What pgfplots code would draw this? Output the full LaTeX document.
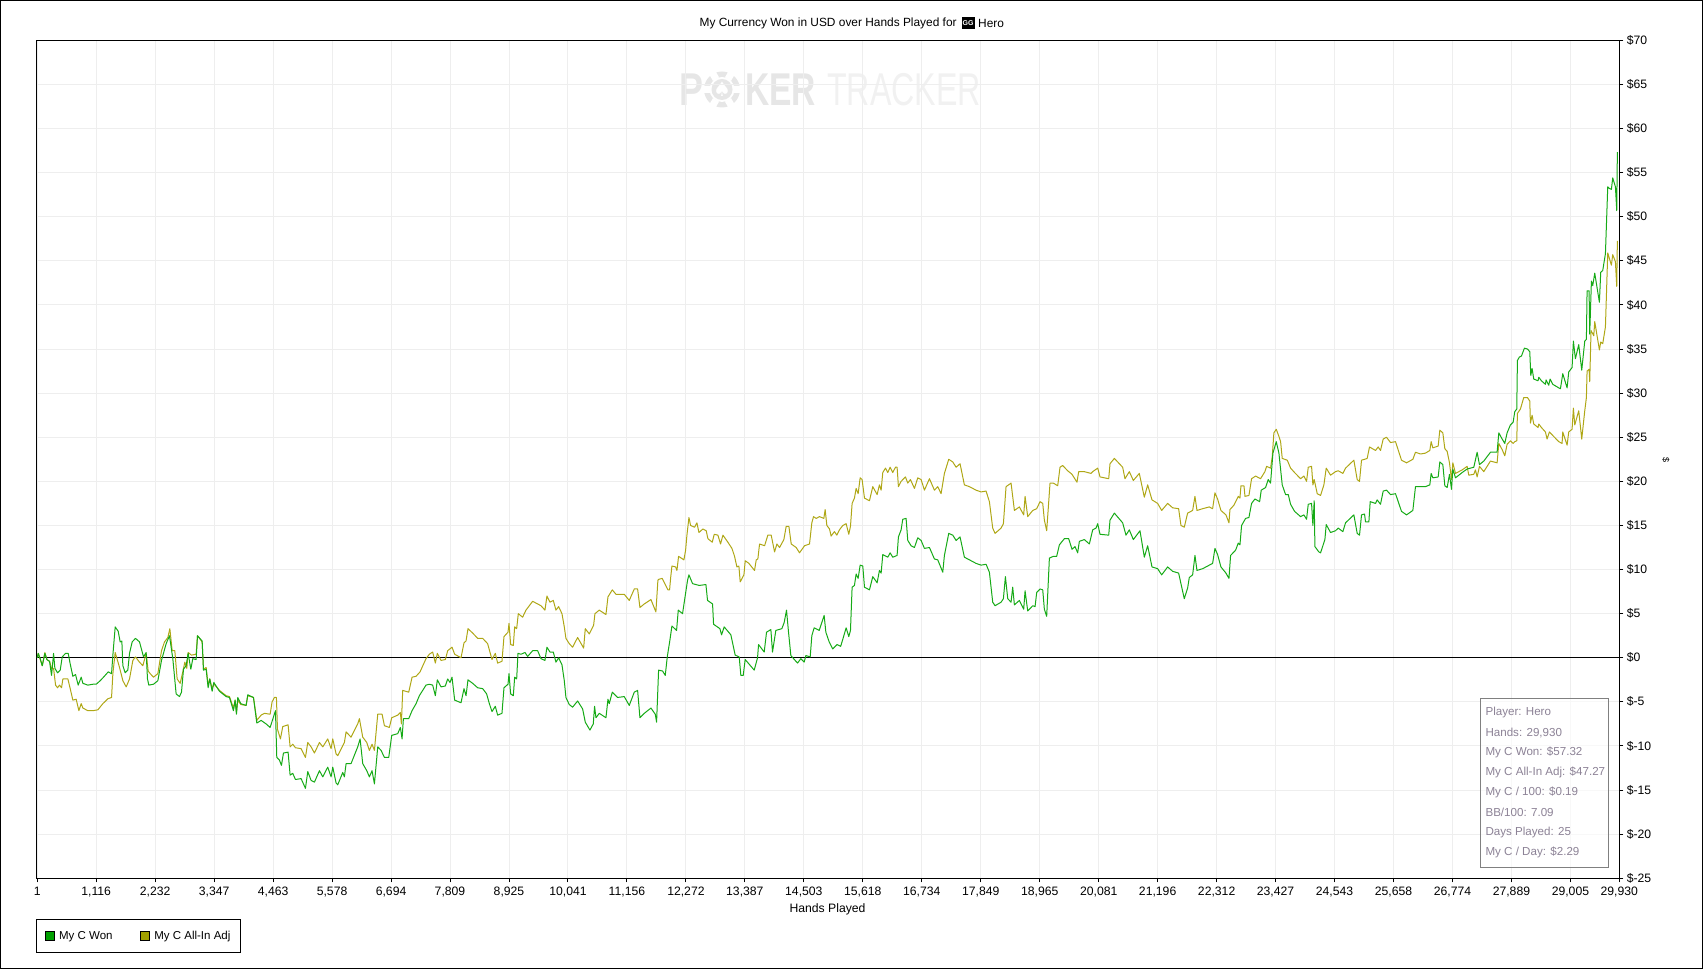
\documentclass[border=0pt]{standalone}
\usepackage{pgfplots}
\pgfplotsset{compat=1.18}
\usepackage{fontspec}
\setmainfont{Liberation Sans}
\newfontfamily\dejavu{DejaVu Sans}
\definecolor{gwon}{HTML}{16AA16}
\definecolor{oadj}{HTML}{AFA716}
\definecolor{gridc}{HTML}{EEEEEE}
\definecolor{wm}{HTML}{E6E6E6}
\definecolor{wmb}{HTML}{F1F1F1}
\definecolor{statc}{HTML}{8C8296}
\definecolor{swg}{RGB}{0,160,0}
\definecolor{swo}{RGB}{160,160,0}
\begin{document}
\begin{tikzpicture}[x=1pt,y=1pt]
\path[use as bounding box] (0,0) rectangle (1703,969);
\draw[black,line width=1pt] (0.5,0.5) rectangle (1702.5,968.5);
% watermark
\node[text=wm,anchor=west,xscale=0.78,transform shape,inner sep=0] at (679,879.5) {\fontsize{46}{46}\selectfont\bfseries P};
\fill[wm] (722,879.5) circle (18);
\fill[white] (722,879.5) circle (12.5);
\fill[wm] (722,879.5) circle (10.5);
\foreach \a in {0,60,...,300}{\fill[white] (722,879.5) ++(\a:12) -- ++(\a+90:3.5) -- ++(\a:7) -- ++(\a-90:7) -- ++(\a+180:7) -- cycle;}
\node[text=white,inner sep=0] at (722,879.5) {\dejavu\fontsize{20}{20}\selectfont ♠};
\node[text=wm,anchor=west,xscale=0.73,transform shape,inner sep=0] at (745,879.5) {\fontsize{46}{46}\selectfont\bfseries KER};
\node[text=wmb,anchor=west,xscale=0.7,transform shape,inner sep=0] at (827,879.5) {\fontsize{46}{46}\selectfont TRACKER};
\begin{axis}[
  at={(36.7pt,90.7pt)},anchor=south west,
  scale only axis,width=1582.6pt,height=838pt,
  xmin=-10,xmax=29930,ymin=-25,ymax=70,
  scaled x ticks=false,scaled y ticks=false,
  axis line style={black,line width=1pt},
  xtick pos=bottom,ytick pos=right,
  tick align=outside,major tick length=4pt,
  every tick/.style={black,line width=1pt},
  grid=major,grid style={gridc,line width=1pt},
  xtick={1,1116,2232,3347,4463,5578,6694,7809,8925,10041,11156,12272,13387,14503,15618,16734,17849,18965,20081,21196,22312,23427,24543,25658,26774,27889,29005,29930},
  xticklabels={1,{1,116},{2,232},{3,347},{4,463},{5,578},{6,694},{7,809},{8,925},{10,041},{11,156},{12,272},{13,387},{14,503},{15,618},{16,734},{17,849},{18,965},{20,081},{21,196},{22,312},{23,427},{24,543},{25,658},{26,774},{27,889},{29,005},{29,930}},
  ytick={-25,-20,-15,-10,-5,0,5,10,15,20,25,30,35,40,45,50,55,60,65,70},
  yticklabels={\$-25,\$-20,\$-15,\$-10,\$-5,\$0,\$5,\$10,\$15,\$20,\$25,\$30,\$35,\$40,\$45,\$50,\$55,\$60,\$65,\$70},
  x tick label style={font=\fontsize{12.2}{13}\selectfont,yshift=-1pt},
  y tick label style={font=\fontsize{12.2}{13}\selectfont,xshift=0pt},
  legend style={at={(0,0)},anchor=north west,yshift=-41pt,xshift=-0.4pt,draw=black,line width=1pt,
    font=\fontsize{11.5}{13}\selectfont,legend columns=2,inner xsep=8pt,inner ysep=9.5pt,
    /tikz/every even column/.append style={column sep=25.5pt}},
  legend cell align=left,
  clip=true,
]
\addlegendimage{legend image code/.code={\draw[black,line width=0.6pt,fill=swg] (-7pt,-4.5pt) rectangle (2pt,4.5pt);\path (4.5pt,0pt);}}
\addlegendentry{My C Won}
\addlegendimage{legend image code/.code={\draw[black,line width=0.6pt,fill=swo] (-7pt,-4.5pt) rectangle (2pt,4.5pt);\path (4.5pt,0pt);}}
\addlegendentry{My C All-In Adj}
\addplot[forget plot,black,line width=1pt] coordinates {(-10,0)(29930,0)};
\addplot[forget plot,oadj,line width=1pt,line join=round] coordinates {
(1,0)(19,0.5)(57,-0.2)(95,-0.9)(145,0.6)(183,-0.2)(233,-0.4)(271,-1.2)(309,-1.2)(347,-3.1)(384,-3.4)(422,-3.1)(460,-3.4)(485,-2.4)(580,-2.4)(624,-3.5)(674,-4.8)(737,-4.7)(788,-6.0)(832,-5.2)(864,-5.7)(958,-6.0)(1053,-6.0)(1147,-5.9)(1242,-5.2)(1336,-4.65)(1406,-4.5)(1431,-1.8)(1475,0.6)(1557,-1.1)(1620,-2.6)(1683,-3.3)(1746,-2.4)(1809,-0.3)(1859,0.1)(1935,-0.5)(1998,-0.9)(2061,0.5)(2099,-1.5)(2137,-1.8)(2200,-2.2)(2282,-1.8)(2351,0.8)(2408,1.8)(2471,2.3)(2509,3.3)(2553,0.8)(2603,0.8)(2647,-2.4)(2704,-2.9)(2754,-1.6)(2792,-0.5)(2830,-1.2)(2855,0.6)(2918,0.3)(3006,0.4)(3032,2.5)(3120,1.8)(3145,-1.3)(3196,-1.1)(3233,-3.1)(3265,-2.4)(3309,-3.5)(3341,-2.95)(3448,-3.7)(3574,-4.3)(3637,-4.4)(3712,-5.7)(3744,-4.8)(3769,-6.2)(3794,-4.8)(3851,-5.3)(3952,-5.4)(3983,-4.3)(4091,-4.5)(4154,-7.1)(4236,-6.5)(4299,-6.3)(4406,-6.4)(4443,-5.0)(4488,-4.5)(4525,-4.5)(4545,-8.1)(4601,-9.2)(4645,-7.8)(4746,-7.6)(4784,-10.1)(4834,-9.8)(4885,-10.2)(4992,-10.3)(5074,-11.3)(5118,-9.6)(5181,-10.1)(5244,-10.8)(5339,-9.6)(5402,-10.1)(5496,-9.2)(5559,-10.3)(5591,-9.2)(5654,-10.9)(5685,-11.1)(5811,-9.6)(5843,-8.4)(5937,-9.0)(6063,-7.5)(6095,-6.9)(6158,-9.0)(6234,-9.6)(6284,-10.5)(6334,-9.8)(6379,-10.5)(6442,-6.4)(6524,-6.4)(6568,-7.7)(6662,-7.9)(6706,-6.8)(6820,-6.5)(6870,-6.2)(6889,-7.5)(6914,-3.7)(7028,-3.9)(7091,-2.2)(7167,-2.1)(7242,-1.6)(7355,-0.1)
(7418,0.4)(7481,0.65)(7532,-0.6)(7569,0.5)(7639,-0.3)(7721,-0.2)(7765,0.8)(7847,1.2)(7897,0.4)(8017,0)(8074,1.7)(8112,1.9)(8149,3.3)(8238,2.8)(8332,2.2)(8427,2.2)(8521,1.6)(8603,-0.2)(8666,0.5)(8710,-0.6)(8792,-0.4)(8830,2.4)(8906,2.9)(8925,3.9)(8956,1.5)(9007,1.4)(9032,3.5)(9070,3.3)(9101,5.0)(9183,4.6)(9246,5.4)(9372,6.4)(9467,6.1)(9530,5.9)(9605,5.4)(9643,7.0)(9700,6.3)(9763,6.5)(9813,5.4)(9864,5.8)(9927,5.0)(9971,3.5)(10002,2.2)(10065,1.6)(10128,1.2)(10223,2.3)(10337,1.1)(10368,3.3)(10444,2.7)(10526,3.7)(10551,5.0)(10633,5.4)(10759,4.9)(10797,6.9)(10879,7.7)(10948,7.2)(11105,7.2)(11200,6.5)(11295,7.8)(11358,7.8)(11402,5.7)(11484,6.1)(11610,6.6)(11704,5.2)(11742,8.8)
(11761,8.9)(11824,9.0)(11932,7.7)(11963,7.7)(11982,9.0)(12007,10.4)(12077,10.3)(12102,9.9)(12133,11.5)(12234,11.1)(12266,12.2)(12291,13.9)(12329,15.9)(12360,15.0)(12436,14.8)(12480,15.3)(12518,14.2)(12593,14.6)(12656,14.4)(12688,13.5)(12770,13.1)(12808,14.0)(12877,13.9)(12927,12.9)(12972,13.9)(13066,13.1)(13142,12.4)(13192,11.5)(13236,10.3)(13274,10.4)(13299,8.6)(13369,9.4)(13394,11.0)(13463,10.7)(13570,9.9)(13602,11.1)(13633,11.2)(13665,12.9)(13760,12.7)(13822,13.9)(13885,13.9)(13949,12.0)(13993,12.9)(14043,12.5)(14125,13.4)(14169,14.9)(14220,14.9)(14264,12.9)(14358,12.5)(14421,11.9)(14516,12.7)(14610,12.9)(14654,15.3)(14686,16.0)(14736,15.8)(14799,16.0)(14881,15.8)(14906,16.8)(14938,15.0)
(14988,14.6)(15019,13.8)(15082,14.3)(15126,13.9)(15176,14.5)(15240,15.0)(15303,15.2)(15353,14.0)(15385,14.9)(15416,17.5)(15460,18.1)(15492,19.2)(15530,18.6)(15568,20.4)(15605,20.2)(15650,18.1)(15744,17.8)(15807,19.4)(15889,18.5)(15933,19.6)(15965,19.0)(15996,21.0)(16047,21.5)(16091,21.0)(16135,21.6)(16185,21.0)(16236,21.6)(16267,21.6)(16292,19.4)(16343,20.0)(16425,20.5)(16469,19.8)(16519,20.2)(16595,19.2)(16658,20.4)(16721,20.2)(16784,19.0)(16879,20.3)(16973,19.0)(17036,19.4)(17099,18.6)(17162,20.9)(17244,22.5)(17320,22.2)(17383,21.6)(17458,22.0)(17540,19.6)(17635,19.4)(17761,19.0)(17856,18.8)(17950,18.9)(18013,17.7)(18076,14.7)(18120,14.1)(18234,14.7)(18278,15.2)(18328,19.4)(18423,19.8)(18486,16.7)(18580,17.1)(18662,16.2)(18688,18.3)(18738,16.0)(18833,16.7)(18908,16.9)(18971,17.7)(19022,17.5)(19053,15.6)(19097,14.4)(19160,19.8)(19223,19.8)(19305,19.5)(19349,21.6)(19399,21.8)(19494,21.2)(19576,20.8)(19670,19.9)(19702,21.1)(19809,21.1)(19935,20.9)(19967,21.1)(20062,21.5)(20106,20.5)(20270,20.3)(20295,22.0)(20377,22.6)(20534,21.6)(20578,20.3)(20660,21.1)(20736,20.1)(20849,20.9)(20944,18.2)(21007,19.6)(21089,17.9)(21196,17.5)(21272,16.7)(21385,17.5)(21480,17.0)(21593,16.9)(21637,15.0)(21700,14.8)(21763,16.4)(21858,16.7)(21902,18.3)(21940,16.7)(22047,16.9)(22173,17.1)(22236,16.9)(22280,18.7)(22330,18.0)(22393,16.7)(22488,16.2)
(22545,15.3)(22564,16.8)(22639,17.3)(22721,18.3)(22753,18.1)(22772,19.5)(22829,19.5)(22848,18.3)(22923,18.4)(22973,20.3)(23049,20.6)(23143,20.3)(23225,21.1)(23257,21.7)(23332,21.5)(23364,22.8)(23395,25.5)(23440,25.9)(23490,25.1)(23522,24.5)(23553,22.6)(23648,22.4)(23711,21.5)(23786,21.0)(23900,20.3)(23963,20.6)(24013,20.0)(24045,21.6)(24108,21.7)(24133,19.6)(24158,20.2)(24215,18.6)(24278,18.4)(24341,19.6)(24385,21.5)(24467,20.7)(24561,21.1)(24612,21.2)(24700,20.9)(24751,21.5)(24908,22.4)(24971,20.2)(25015,20.0)(25053,22.4)(25110,22.5)(25160,22.6)(25204,23.9)(25318,23.5)(25368,23.9)(25412,23.5)(25463,24.8)(25526,25.0)(25601,24.4)(25696,24.5)(25809,22.4)(25904,22.1)(26024,22.5)(26074,23.3)(26169,23.1)(26263,23.2)(26345,23.5)(26370,24.5)(26402,23.8)(26503,24.0)(26534,25.8)(26591,25.5)(26629,23.7)(26673,23.4)(26717,22.1)(26755,20.2)(26780,22.1)(26831,20.9)(26957,21.3)(27051,21.7)(27082,20.7)(27177,20.8)(27208,21.3)(27240,20.5)(27284,21.7)(27366,21.1)(27492,22.3)(27618,22.1)(27650,24.3)(27713,23.6)(27763,22.9)(27807,24.2)
(27870,24.6)(27921,24.3)(27952,24.5)(27990,24.6)(28002,27.7)(28059,28.2)(28122,29.5)(28192,29.5)(28236,29.1)(28248,26.6)(28280,27.5)(28311,26.5)(28393,26.1)(28406,26.5)(28456,26.1)(28532,25.6)(28563,24.8)(28607,25.6)(28671,25.2)(28784,24.5)(28847,24.3)(28860,25.6)(28942,24.1)(28973,25.6)(29036,25.9)(29061,28.3)(29087,26.4)(29162,28.0)(29219,24.8)(29276,28.0)(29307,29.5)(29320,32.5)(29358,32.7)(29370,31.3)(29395,37.1)(29446,36.5)(29465,38.1)(29553,34.9)(29578,35.8)(29616,35.6)(29667,37.5)(29711,45.9)(29780,44.5)(29805,45.7)(29856,44.9)(29881,42.1)(29893,47.27)
};
\addplot[forget plot,gwon,line width=1pt,line join=round] coordinates {
(1,0)(19,0.5)(57,-0.1)(95,-0.9)(145,0.5)(183,-0.2)(233,-0.4)(271,-2.0)(309,0.5)(334,-1.2)(384,-1.7)(435,-1.4)(473,0.1)(536,0.5)(586,0.5)(624,-0.7)(674,-2.1)(725,-1.9)(775,-3.1)(832,-2.2)(864,-2.9)(958,-3.1)(1053,-3.0)(1116,-3.0)(1191,-2.6)(1254,-2.2)(1343,-1.6)(1406,-1.8)(1431,0.3)(1475,3.5)(1532,3.0)(1569,1.8)(1601,1.9)(1620,-0.9)(1664,-1.7)(1714,-1.4)(1746,0.5)(1796,1.8)(1859,2.2)(1935,1.8)(2011,0.1)(2061,0.6)(2086,-2.4)(2111,-3.1)(2200,-3.0)(2282,-2.6)(2351,-0.3)(2439,1.6)(2502,2.5)(2565,-0.1)(2628,-4.1)(2691,-4.4)(2729,-3.9)(2767,-1.3)(2817,-0.9)(2855,0.5)(2906,-1.3)(2943,-0.1)(3006,-0.2)(3032,2.5)(3120,1.9)(3145,-1.4)(3196,-1.3)(3233,-3.4)(3265,-2.4)(3309,-3.8)(3341,-2.8)(3448,-3.8)(3574,-4.4)(3637,-4.5)(3712,-6.0)(3744,-4.8)(3769,-6.4)(3794,-4.5)(3851,-5.2)(3952,-5.4)(3983,-4.2)(4091,-4.5)(4154,-7.4)(4236,-7.1)(4330,-7.5)(4406,-7.9)(4507,-6.0)(4532,-11.3)(4582,-11.6)(4620,-12.2)(4658,-10.8)(4746,-10.7)(4784,-13.3)(4834,-13.1)(4885,-13.8)(4992,-13.7)(5074,-14.8)(5118,-12.9)(5181,-13.9)(5244,-14.1)(5339,-12.8)(5402,-13.5)(5496,-12.4)(5559,-13.5)(5591,-12.4)(5654,-14.2)(5685,-14.4)(5780,-13.0)(5811,-13.5)(5843,-12.0)(5937,-12.0)(6063,-10.1)(6108,-9.2)(6158,-12.0)(6234,-12.8)(6284,-13.5)(6334,-12.8)(6379,-14.3)(6442,-10.1)(6505,-10.5)(6568,-11.3)(6650,-11.3)(6706,-8.8)(6820,-8.6)(6870,-7.9)(6902,-9.2)(6927,-6.9)(7028,-6.9)(7091,-6.0)(7167,-5.2)(7229,-4.3)(7355,-3.1)
(7418,-3.0)(7481,-3.1)(7532,-4.3)(7569,-2.5)(7639,-3.3)(7721,-3.2)(7765,-2.4)(7809,-2.8)(7847,-2.2)(7897,-4.8)(8017,-5.1)(8074,-3.5)(8112,-4.3)(8149,-2.5)(8238,-2.9)(8332,-3.4)(8427,-3.5)(8502,-4.1)(8553,-5.2)(8603,-6.1)(8666,-5.5)(8710,-6.5)(8792,-6.3)(8830,-3.4)(8906,-3.0)(8925,-1.8)(8956,-4.1)(9007,-4.3)(9032,-2.2)(9070,-2.4)(9095,0.5)(9152,0.4)(9227,0.6)(9278,0.15)(9372,0.8)(9467,0.8)(9530,-0.1)(9605,-0.3)(9643,1.2)(9700,0.65)(9763,0.65)(9813,-0.5)(9864,0)(9927,-0.8)(9971,-2.6)(10002,-4.5)(10065,-5.3)(10128,-5.6)(10223,-4.9)(10318,-5.8)(10368,-7.3)(10456,-8.2)(10519,-7.5)(10544,-5.5)(10570,-6.8)(10633,-6.3)(10759,-6.8)(10797,-4.7)(10822,-5.2)(10879,-3.9)(10979,-4.5)(11105,-4.4)(11200,-5.4)(11295,-3.9)(11358,-3.7)(11402,-6.8)(11484,-6.3)(11610,-5.7)(11692,-6.4)(11717,-7.3)(11755,-1.4)(11830,-1.5)(11881,-2.0)(11919,0.1)(11969,2.0)(12007,3.6)(12095,3.1)(12127,5.4)(12208,5.0)(12303,8.8)(12329,9.4)(12398,8.4)(12524,8.2)(12650,8.3)(12681,6.5)(12776,6.1)(12795,3.8)(12915,3.3)(12946,2.6)(12996,3.5)(13122,2.6)(13204,0.3)(13280,0.1)(13311,-2.0)(13356,-2.0)(13393,-0.2)(13564,-1.4)(13627,0)(13646,1.5)(13753,0.65)(13797,2.9)(13879,3.2)(13910,0.65)(13973,3.1)(14087,3.3)(14131,4.0)(14175,5.4)(14213,2.9)(14257,0.25)(14383,-0.6)(14446,-0.1)(14509,-0.5)(14541,0.25)(14623,0.1)(14654,2.5)(14698,3.4)(14793,3.1)(14887,4.8)(14919,2.9)(14982,1.8)(15050,1.0)(15130,1.5)(15200,1.3)
(15240,2.1)(15303,3.4)(15353,2.4)(15385,3.1)(15416,8.0)(15460,8.2)(15492,9.5)(15530,9.0)(15568,10.5)(15618,10.4)(15650,8.0)(15744,7.7)(15807,9.2)(15889,8.5)(15933,9.9)(15965,9.6)(15996,11.7)(16091,11.4)(16135,11.9)(16185,11.4)(16267,11.6)(16292,13.7)(16343,14.5)(16374,15.7)(16437,15.8)(16469,13.3)(16532,12.7)(16595,12.5)(16658,13.6)(16721,13.3)(16784,12.4)(16879,12.5)(16973,11.2)(17036,11.1)(17131,9.7)(17162,11.6)(17244,14.1)(17320,13.9)(17383,13.3)(17458,13.7)(17540,11.4)(17635,11.1)(17761,10.7)(17856,10.5)(17950,10.6)(18013,9.7)(18076,6.3)(18120,5.9)(18234,6.3)(18278,6.7)(18316,9.2)(18360,6.7)(18423,6.3)(18454,8.0)(18486,6.0)(18580,6.5)(18662,5.5)(18688,7.6)(18738,5.3)(18833,5.9)(18877,5.8)(18908,7.4)(18971,7.8)(19022,7.7)(19053,5.5)(19097,4.7)(19148,11.3)(19223,11.5)(19286,11.5)(19337,12.8)(19431,13.5)(19513,13.5)(19576,12.3)(19633,12.6)(19683,11.9)(19715,13.2)(19809,13.4)(19904,12.9)(19967,14.5)(20030,14.7)(20062,15.2)(20106,14.0)(20270,13.9)(20295,15.6)(20377,16.4)(20534,15.3)(20597,13.9)(20660,14.5)(20736,13.4)(20862,14.4)(20944,11.4)(21007,12.7)(21089,10.3)(21196,10.1)(21272,9.4)(21385,10.3)(21480,9.8)(21593,9.6)(21637,8.4)(21700,6.7)(21763,7.9)(21795,9.1)(21858,9.4)(21902,11.6)(21940,9.9)(22047,10.1)(22173,10.5)(22236,10.7)(22280,12.4)(22330,11.7)(22393,10.3)(22488,9.6)
(22545,9.0)(22576,11.6)(22671,12.2)(22721,13.0)(22753,12.8)(22784,15.0)(22860,15.8)(22923,15.9)(22973,17.5)(23036,18.0)(23125,17.7)(23156,19.0)(23238,19.3)(23288,20.2)(23332,19.8)(23377,23.2)(23440,24.5)(23490,23.2)(23553,19.6)(23616,18.5)(23667,18.5)(23711,17.4)(23786,16.6)(23900,16.0)(23963,16.2)(24013,15.7)(24045,17.4)(24108,17.5)(24133,15.0)(24158,17.8)(24171,12.6)(24246,12.0)(24278,11.9)(24360,13.4)(24385,15.1)(24467,14.2)(24561,14.4)(24612,14.7)(24700,14.3)(24751,15.3)(24908,16.2)(24971,14.1)(25015,13.9)(25053,16.2)(25110,16.3)(25129,15.4)(25192,15.4)(25217,17.7)(25318,17.5)(25349,17.9)(25412,17.4)(25463,18.9)(25526,19.0)(25601,18.5)(25696,18.6)(25809,16.6)(25904,16.2)(26024,16.7)(26074,19.4)(26169,19.4)(26263,19.4)(26345,19.6)(26370,20.9)(26402,20.4)(26503,20.5)(26534,22.2)(26591,21.9)(26629,19.5)(26673,19.3)(26717,20.8)(26755,19.1)(26780,21.4)(26831,20.4)(26957,21.0)(27051,21.4)(27177,21.6)(27240,23.3)(27284,21.9)(27366,22.3)(27492,23.3)(27618,23.3)(27650,25.5)(27713,24.8)(27763,24.3)(27807,25.5)
(27870,26.4)(27921,26.7)(27952,27.9)(27990,28.2)(28002,33.7)(28040,34.1)(28078,34.2)(28135,35.1)(28192,35.0)(28236,34.7)(28255,32.0)(28280,32.8)(28311,31.6)(28393,31.4)(28406,31.8)(28456,31.4)(28532,31.0)(28544,31.5)(28595,30.9)(28620,31.6)(28671,31.0)(28784,30.6)(28816,30.5)(28860,32.2)(28942,30.6)(28973,32.4)(29036,32.9)(29061,35.9)(29099,33.9)(29162,35.5)(29219,32.6)(29276,35.9)(29307,36.1)(29320,41.6)(29358,41.6)(29370,36.7)(29402,42.7)(29427,42.2)(29465,43.6)(29553,40.3)(29578,43.7)(29616,43.9)(29667,45.8)(29711,53.4)(29742,53.2)(29780,53.1)(29805,54.4)(29856,53.4)(29881,50.7)(29893,57.32)
};
\end{axis}
% title
\node[anchor=west,inner sep=0,font=\fontsize{11.9}{13}\selectfont] at (699.4,946) {My Currency Won in USD over Hands Played for};
\fill[black] (961.5,940) rectangle (974.5,952);
\node[text=white,inner sep=0,font=\fontsize{7}{7}\selectfont\bfseries] at (968,946.3) {GG};
\node[anchor=west,inner sep=0,font=\fontsize{11.9}{13}\selectfont] at (978,946) {Hero};
% axis labels
\node[font=\fontsize{12.2}{13}\selectfont] at (827.5,59.5) {Hands Played};
\node[rotate=-90,font=\fontsize{9}{10}\selectfont] at (1666,509) {\$};
% stats
\draw[draw=gray,line width=1pt,fill=white,fill opacity=0.6] (1480.3,101.7) rectangle (1608.3,270.7);
\foreach \yy/\tt in {256/{Player: Hero},236.3/{Hands: 29,930},216.3/{My C Won: \$57.32},196.3/{My C All-In Adj: \$47.27},176.3/{My C / 100: \$0.19},156.3/{BB/100: 7.09},136.3/{Days Played: 25},116.3/{My C / Day: \$2.29}}{
  \node[anchor=west,inner sep=0,text=statc,font=\fontsize{11.6}{13}\selectfont] at (1485.3,\yy) {\tt};
}
\end{tikzpicture}
\end{document}
